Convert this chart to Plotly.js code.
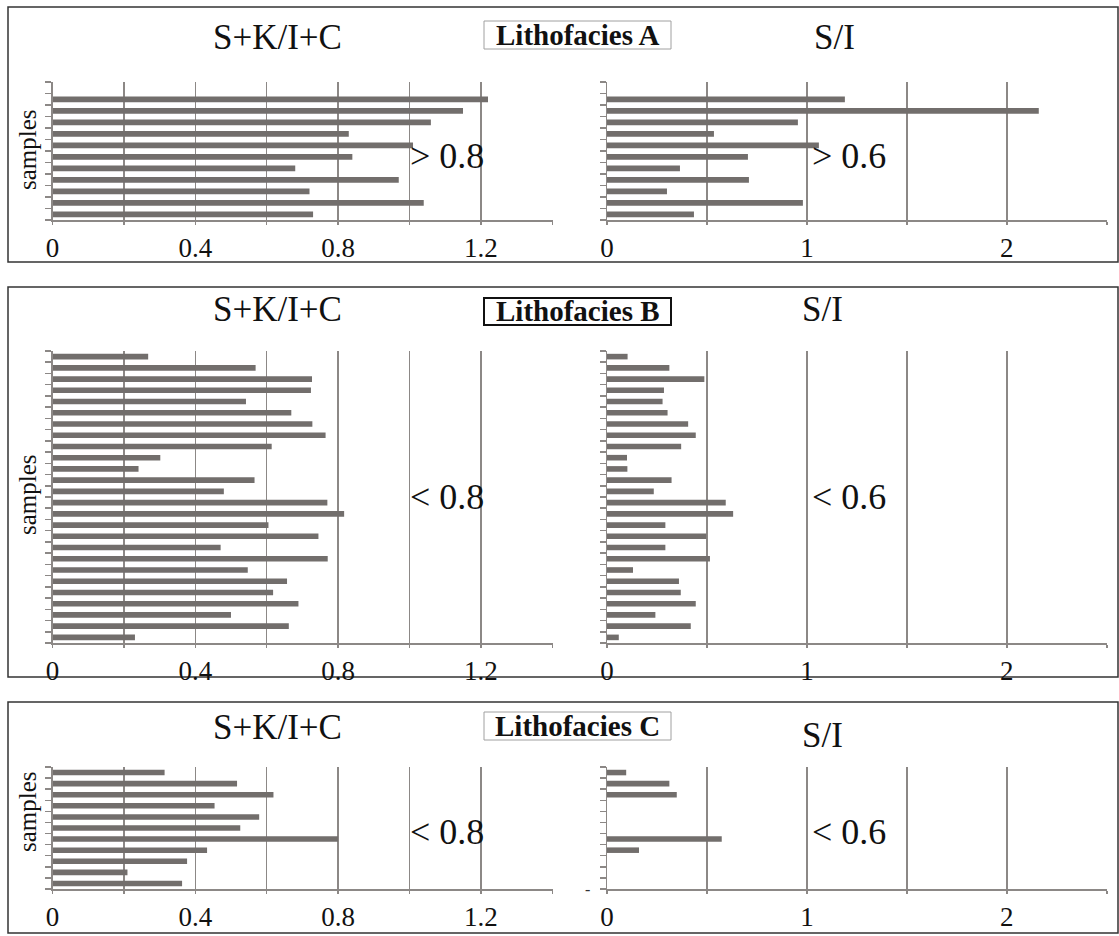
<!DOCTYPE html>
<html>
<head>
<meta charset="utf-8">
<script src="https://cdn.plot.ly/plotly-3.0.1.min.js"></script>
<style>html,body{margin:0;padding:0;background:#fff;}#chart{width:1119px;height:936px;}</style>
</head>
<body>
<div id="chart"></div>
<script>
// ---- data (top sample first) ----
const faciesNames = ["Lithofacies A", "Lithofacies B", "Lithofacies C"];
const ratioNames = ["S+K/I+C", "S/I"];
const thresholds = ["> 0.8", "> 0.6", "< 0.8", "< 0.6", "< 0.8", "< 0.6"];

const skicA = [null, 1.22, 1.15, 1.06, 0.83, 1.01, 0.84, 0.68, 0.97, 0.72, 1.04, 0.73];
const siA   = [null, 1.19, 2.16, 0.955, 0.535, 1.06, 0.705, 0.365, 0.71, 0.30, 0.98, 0.435];

const skicB = [0.268, 0.569, 0.727, 0.724, 0.542, 0.669, 0.728, 0.765, 0.614, 0.302, 0.241, 0.566, 0.48,
               0.77, 0.817, 0.605, 0.745, 0.471, 0.771, 0.547, 0.657, 0.618, 0.689, 0.50, 0.662, 0.231];
const siB   = [0.103, 0.312, 0.487, 0.285, 0.278, 0.303, 0.406, 0.444, 0.371, 0.10, 0.102, 0.323, 0.234,
               0.594, 0.631, 0.292, 0.497, 0.292, 0.515, 0.13, 0.36, 0.369, 0.444, 0.242, 0.419, 0.059];

const skicC = [0.314, 0.517, 0.619, 0.454, 0.579, 0.526, 0.80, 0.433, 0.377, 0.21, 0.363];
const siC   = [0.096, 0.312, 0.349, null, null, null, 0.574, 0.16, null, null, null];

const skicTickVals = [0, 0.2, 0.4, 0.6, 0.8, 1.0, 1.2, 1.4];
const skicTickText = ["0", "", "0.4", "", "0.8", "", "1.2", ""];
const siTickVals = [0, 0.5, 1, 1.5, 2, 2.5];
const siTickText = ["0", "", "1", "", "2", ""];

// ---- styling / layout ----
const W = 1119, H = 936;
const px = v => v / W;
const py = v => 1 - v / H;
const FONT = "Liberation Serif";
const BAR = "#726e6c";
const GRID = "#8c8886";

const panels = [
  {left: skicA, right: siA, top: 82, bottom: 220, box: [7, 262], titleY: 38, siX: 834, thrY: 156, sampY: 150, labY: [21, 49], labBorder: "#a0a0a0", labW: 1},
  {left: skicB, right: siB, top: 351, bottom: 643, box: [287, 677], titleY: 310, siX: 822, thrY: 497, sampY: 495, labY: [298, 325], labBorder: "#111", labW: 2},
  {left: skicC, right: siC, top: 767, bottom: 889, box: [702, 933], titleY: 727, siX: 822, thrY: 832, sampY: 812, labY: [712, 740], labBorder: "#a0a0a0", labW: 1}
];
const xLeftDom = [px(52.5), px(552.5)];
const xRightDom = [px(607), px(1107)];

const data = [];
const layout = {
  width: W, height: H, margin: {l: 0, r: 0, t: 0, b: 0},
  paper_bgcolor: "#fff", plot_bgcolor: "rgba(0,0,0,0)",
  showlegend: false, bargap: 0.5,
  shapes: [], annotations: []
};

function xAxis(dom, vals, text, anchor) {
  return {
    domain: dom, range: [0, vals[vals.length - 1] * 1.0005], anchor: anchor,
    tickmode: "array", tickvals: vals, ticktext: text,
    showgrid: true, gridcolor: GRID, gridwidth: 1.5, zeroline: false,
    showline: true, linecolor: GRID, linewidth: 1.5,
    ticks: "outside", ticklen: 3, tickcolor: GRID, tickwidth: 1.5,
    tickfont: {family: FONT, size: 27, color: "#111"}, fixedrange: true
  };
}
function yAxis(dom, n, anchor) {
  const tv = [];
  for (let i = 0; i <= n; i++) tv.push(i + 0.5);
  return {
    domain: dom, range: [n + 0.5, 0.5], anchor: anchor,
    tickmode: "array", tickvals: tv, ticktext: tv.map(() => ""),
    showgrid: false, zeroline: false, showline: true, linecolor: GRID, linewidth: 1.5,
    ticks: "outside", ticklen: 6, tickcolor: GRID, tickwidth: 1.5, fixedrange: true
  };
}

panels.forEach((p, k) => {
  const yDom = [py(p.bottom), py(p.top)];
  const series = [p.left, p.right];
  series.forEach((vals, j) => {
    const idx = 2 * k + j + 1;
    const xs = "x" + (idx === 1 ? "" : idx), ys = "y" + (idx === 1 ? "" : idx);
    const yIdx = vals.map((_, i) => i + 1);
    data.push({
      type: "bar", orientation: "h", x: vals, y: yIdx,
      xaxis: xs, yaxis: ys, marker: {color: BAR}, hoverinfo: "skip"
    });
    layout["xaxis" + (idx === 1 ? "" : idx)] = j === 0
      ? xAxis(xLeftDom, skicTickVals, skicTickText, ys)
      : xAxis(xRightDom, siTickVals, siTickText, ys);
    layout["yaxis" + (idx === 1 ? "" : idx)] = yAxis(yDom, vals.length, xs);
    layout.annotations.push({
      xref: "paper", yref: "paper", x: px(j === 0 ? 447 : 849), y: py(p.thrY),
      text: thresholds[2 * k + j], showarrow: false,
      font: {family: FONT, size: 36, color: "#111"}, xanchor: "center", yanchor: "middle"
    });
  });
  layout.shapes.push({
    type: "rect", xref: "paper", yref: "paper",
    x0: px(8), x1: px(1118), y0: py(p.box[1]), y1: py(p.box[0]),
    line: {color: "#333", width: 1.5}, layer: "below"
  });
  layout.shapes.push({
    type: "rect", xref: "paper", yref: "paper",
    x0: px(484), x1: px(671), y0: py(p.labY[1]), y1: py(p.labY[0]),
    line: {color: p.labBorder, width: p.labW}, fillcolor: "#fff", layer: "below"
  });
  layout.annotations.push({
    xref: "paper", yref: "paper", x: px(277), y: py(p.titleY), text: ratioNames[0],
    showarrow: false, font: {family: FONT, size: 35, color: "#111"}, xanchor: "center", yanchor: "middle"
  });
  layout.annotations.push({
    xref: "paper", yref: "paper", x: px(p.siX), y: py(p.titleY + (k === 2 ? 8 : 0)), text: ratioNames[1],
    showarrow: false, font: {family: FONT, size: 35, color: "#111"}, xanchor: "center", yanchor: "middle"
  });
  layout.annotations.push({
    xref: "paper", yref: "paper", x: px(577.5), y: py((p.labY[0] + p.labY[1]) / 2), text: "<b>" + faciesNames[k] + "</b>",
    showarrow: false, font: {family: FONT, size: 29, color: "#111"}, xanchor: "center", yanchor: "middle"
  });
  layout.annotations.push({
    xref: "paper", yref: "paper", x: px(27), y: py(p.sampY), text: "samples", textangle: -90,
    showarrow: false, font: {family: FONT, size: 25, color: "#111"}, xanchor: "center", yanchor: "middle"
  });
});

layout.annotations.push({
  xref: "paper", yref: "paper", x: px(587), y: py(900), text: "-", showarrow: false,
  font: {family: FONT, size: 16, color: "#333"}
});

Plotly.newPlot("chart", data, layout, {staticPlot: true, displayModeBar: false});
</script>
</body>
</html>
